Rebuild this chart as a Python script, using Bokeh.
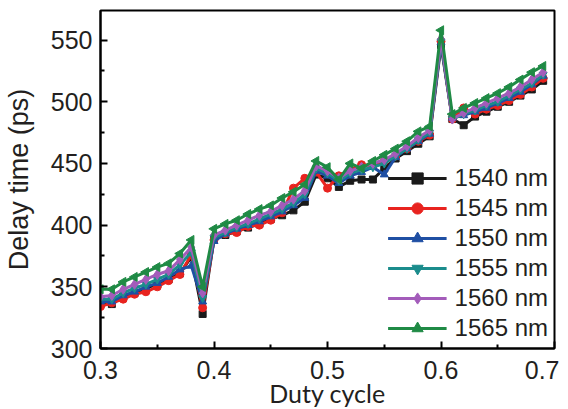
import numpy as np
from bokeh.plotting import figure
from bokeh.models import (Range1d, FixedTicker, PrintfTickFormatter, Legend, LegendItem)
from bokeh.embed import file_html
from bokeh.resources import INLINE

duty = [0.30, 0.31, 0.32, 0.33, 0.34, 0.35, 0.36, 0.37, 0.38, 0.39,
        0.40, 0.41, 0.42, 0.43, 0.44, 0.45, 0.46, 0.47, 0.48, 0.49,
        0.50, 0.51, 0.52, 0.53, 0.54, 0.55, 0.56, 0.57, 0.58, 0.59,
        0.60, 0.61, 0.62, 0.63, 0.64, 0.65, 0.66, 0.67, 0.68, 0.69]

d1540 = [336, 336, 342, 345, 349, 352, 356, 361, 374, 328,
         389, 392, 395, 398, 401, 405, 408, 412, 419, 441,
         438, 431, 436, 437, 437, 446, 454, 460, 466, 472,
         546, 486, 481, 488, 492, 496, 500, 505, 510, 517]
d1545 = [334, 337, 340, 344, 346, 350, 355, 360, 376, 333,
         388, 393, 394, 399, 400, 404, 410, 430, 438, 443,
         430, 440, 445, 449, 448, 452, 456, 462, 468, 473,
         549, 486, 495, 490, 494, 497, 501, 506, 512, 519]
d1550 = [338, 338, 343, 346, 350, 353, 358, 364, 367, 338,
         387, 393, 397, 400, 403, 407, 411, 416, 422, 444,
         440, 434, 440, 443, 447, 441, 455, 462, 468, 474,
         548, 487, 489, 492, 495, 499, 503, 508, 514, 521]
d1555 = [340, 340, 345, 349, 352, 356, 360, 368, 378, 341,
         390, 394, 398, 401, 405, 409, 413, 418, 425, 446,
         442, 436, 442, 445, 447, 450, 456, 462, 469, 475,
         549, 486, 490, 493, 497, 500, 505, 510, 515, 522]
d1560 = [342, 343, 348, 352, 356, 360, 363, 372, 382, 345,
         392, 396, 400, 404, 408, 411, 416, 421, 428, 448,
         444, 438, 444, 447, 450, 453, 458, 464, 471, 477,
         551, 486, 491, 495, 499, 503, 507, 512, 518, 524]
d1565 = [348, 348, 354, 358, 362, 366, 369, 377, 388, 350,
         397, 401, 404, 409, 413, 416, 422, 427, 433, 452,
         447, 437, 450, 446, 452, 457, 462, 468, 476, 480,
         558, 490, 495, 499, 503, 507, 512, 518, 524, 529]

labels = ["1540 nm", "1545 nm", "1550 nm", "1555 nm", "1560 nm", "1565 nm"]
series = [d1540, d1545, d1550, d1555, d1560, d1565]
colors = ["#1a1a1a", "#e8231f", "#1f4fa3", "#1b8c8c", "#a35cba", "#1f8a45"]
markers = ["square", "circle", "triangle", "inverted_triangle", "diamond", "triangle"]
angles = [0, 0, 0, 0, 0, 90]
sizes = [7, 8, 8, 8, 10, 9]

x_ticks = [0.3, 0.4, 0.5, 0.6, 0.7]
x_minor = [0.35, 0.45, 0.55, 0.65]
y_ticks = [300, 350, 400, 450, 500, 550]
y_minor = [325, 375, 425, 475, 525]

TXT = "#231f20"

p = figure(frame_width=454, frame_height=338, output_backend="svg", toolbar_location=None,
           x_range=Range1d(0.3, 0.7), y_range=Range1d(300, 574),
           min_border_left=93, min_border_right=5, min_border_top=10, min_border_bottom=0)
p.xgrid.visible = False
p.ygrid.visible = False
p.outline_line_color = "black"
p.outline_line_width = 2
p.outline_line_alpha = 1

items = []
for lab, ys, c, m, a, s in zip(labels, series, colors, markers, angles, sizes):
    r1 = p.line(duty, ys, line_color=c, line_width=3)
    r2 = p.scatter(duty, ys, marker=m, angle=a, angle_units="deg", size=s,
                   fill_color=c, line_color=c)
    items.append(LegendItem(label=lab, renderers=[r1, r2]))

for ax in (p.xaxis[0], p.yaxis[0]):
    ax.axis_line_width = 2
    ax.axis_line_color = "black"
    ax.major_tick_in = 7
    ax.major_tick_out = 0
    ax.minor_tick_in = 4
    ax.minor_tick_out = 0
    ax.major_tick_line_width = 2
    ax.minor_tick_line_width = 2
    ax.major_label_text_font = "Liberation Sans"
    ax.major_label_text_font_size = "25px"
    ax.major_label_text_color = TXT
    ax.axis_label_text_color = TXT
    ax.axis_label_text_font_style = "normal"

p.xaxis[0].ticker = FixedTicker(ticks=x_ticks, minor_ticks=x_minor)
p.xaxis[0].formatter = PrintfTickFormatter(format="%.1f")
p.xaxis[0].major_label_standoff = 12
p.xaxis[0].axis_label = "Duty cycle"
p.xaxis[0].axis_label_text_font = "Lato"
p.xaxis[0].axis_label_text_font_size = "25px"
p.xaxis[0].axis_label_standoff = -4

p.yaxis[0].ticker = FixedTicker(ticks=y_ticks, minor_ticks=y_minor)
p.yaxis[0].major_label_standoff = 8
p.yaxis[0].axis_label = "Delay time (ps)"
p.yaxis[0].axis_label_text_font = "Liberation Sans"
p.yaxis[0].axis_label_text_font_size = "27px"
p.yaxis[0].axis_label_standoff = 14

legend = Legend(items=items, location="bottom_right")
legend.border_line_alpha = 0
legend.background_fill_alpha = 0
legend.label_text_font = "Liberation Sans"
legend.label_text_font_size = "24px"
legend.label_text_color = TXT
legend.glyph_width = 59
legend.glyph_height = 28
legend.label_height = 28
legend.label_standoff = 8
legend.spacing = 2
legend.padding = 2
legend.margin = 4
p.add_layout(legend)

open("out.html", "w").write(file_html(p, INLINE))
